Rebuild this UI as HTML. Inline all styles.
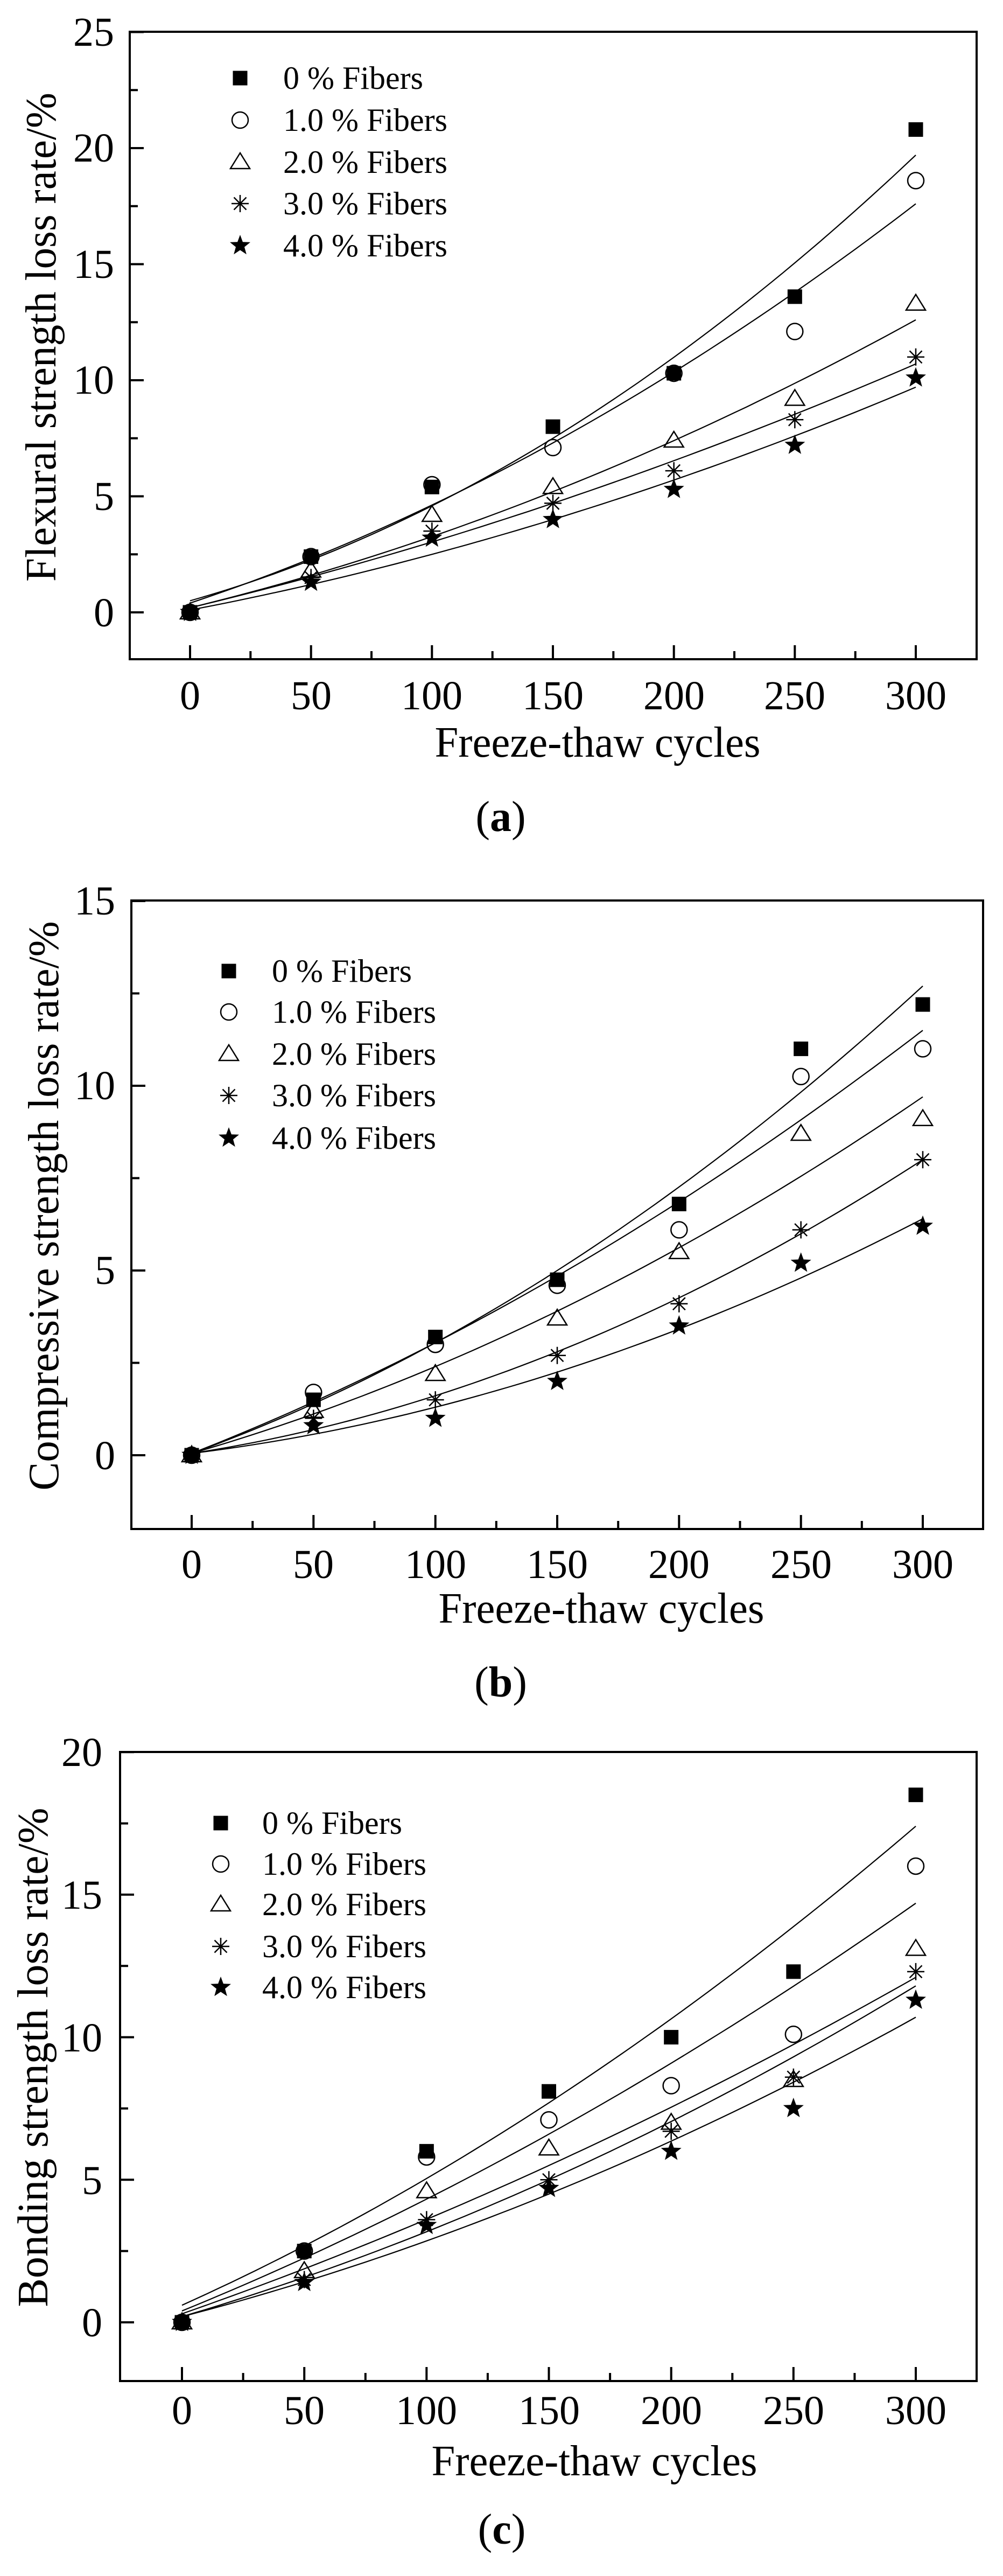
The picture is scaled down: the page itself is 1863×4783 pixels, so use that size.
<!DOCTYPE html>
<html><head><meta charset="utf-8"><style>
html,body{margin:0;padding:0;background:#fff;}
svg{display:block;font-family:"Liberation Serif","DejaVu Serif",serif;}
</style></head><body>
<svg id="s" xmlns="http://www.w3.org/2000/svg" width="1863" height="4783" viewBox="0 0 1863 4783">
<rect width="1863" height="4783" fill="#fff"/>
<g id="g"></g>
<g font-size="76" fill="#000">
<g text-anchor="end">
<text x="212" y="85">25</text><text x="212" y="300">20</text><text x="212" y="516">15</text><text x="212" y="731">10</text><text x="212" y="947">5</text><text x="212" y="1163">0</text>
</g>
<g text-anchor="middle">
<text x="353" y="1317">0</text><text x="578" y="1317">50</text><text x="802" y="1317">100</text><text x="1027" y="1317">150</text><text x="1252" y="1317">200</text><text x="1476" y="1317">250</text><text x="1701" y="1317">300</text>
</g>
<g text-anchor="end">
<text x="214" y="1698">15</text><text x="214" y="2041">10</text><text x="214" y="2384">5</text><text x="214" y="2728">0</text>
</g>
<g text-anchor="middle">
<text x="356" y="2930">0</text><text x="582" y="2930">50</text><text x="809" y="2930">100</text><text x="1035" y="2930">150</text><text x="1261" y="2930">200</text><text x="1488" y="2930">250</text><text x="1714" y="2930">300</text>
</g>
<g text-anchor="end">
<text x="190" y="3279">20</text><text x="190" y="3544">15</text><text x="190" y="3809">10</text><text x="190" y="4074">5</text><text x="190" y="4338">0</text>
</g>
<g text-anchor="middle">
<text x="338" y="4501">0</text><text x="565" y="4501">50</text><text x="792" y="4501">100</text><text x="1020" y="4501">150</text><text x="1247" y="4501">200</text><text x="1474" y="4501">250</text><text x="1701" y="4501">300</text>
</g>
</g>
<g font-size="80" fill="#000" text-anchor="middle">
<text x="1110" y="1405" textLength="605" lengthAdjust="spacingAndGlyphs">Freeze-thaw cycles</text>
<text x="1117" y="3013" textLength="605" lengthAdjust="spacingAndGlyphs">Freeze-thaw cycles</text>
<text x="1104" y="4596" textLength="605" lengthAdjust="spacingAndGlyphs">Freeze-thaw cycles</text>
<text transform="translate(103,626) rotate(-90)" textLength="908" lengthAdjust="spacingAndGlyphs">Flexural strength loss rate/%</text>
<text transform="translate(108,2239) rotate(-90)" textLength="1057" lengthAdjust="spacingAndGlyphs">Compressive strength loss rate/%</text>
<text transform="translate(88,3820) rotate(-90)" textLength="927" lengthAdjust="spacingAndGlyphs">Bonding strength loss rate/%</text>
<text x="930" y="1543">(<tspan font-weight="bold">a</tspan>)</text>
<text x="930" y="3150">(<tspan font-weight="bold">b</tspan>)</text>
<text x="932" y="4723">(<tspan font-weight="bold">c</tspan>)</text>
</g>
<g font-size="60" fill="#000">
<text x="526" y="165">0 % Fibers</text><text x="526" y="243">1.0 % Fibers</text><text x="526" y="321">2.0 % Fibers</text><text x="526" y="398">3.0 % Fibers</text><text x="526" y="476">4.0 % Fibers</text>
<text x="505" y="1823">0 % Fibers</text><text x="505" y="1899">1.0 % Fibers</text><text x="505" y="1977">2.0 % Fibers</text><text x="505" y="2054">3.0 % Fibers</text><text x="505" y="2133">4.0 % Fibers</text>
<text x="487" y="3405">0 % Fibers</text><text x="487" y="3481">1.0 % Fibers</text><text x="487" y="3556">2.0 % Fibers</text><text x="487" y="3634">3.0 % Fibers</text><text x="487" y="3710">4.0 % Fibers</text>
</g>
</svg>
<script>
(function(){
var g=document.getElementById("g"),out="";
function star(cx,cy,r){var p=[];for(var i=0;i<10;i++){var a=-Math.PI/2+i*Math.PI/5,rr=i%2?r*0.42:r;p.push((cx+rr*Math.cos(a)).toFixed(1)+","+(cy+rr*Math.sin(a)).toFixed(1));}return '<polygon points="'+p.join(" ")+'" fill="#000"/>';}
function mk(t,x,y){
 if(t==0)return '<rect x="'+(x-13.5)+'" y="'+(y-13.5)+'" width="27" height="27" fill="#000"/>';
 if(t==1)return '<circle cx="'+x+'" cy="'+y+'" r="15" fill="none" stroke="#000" stroke-width="2.5"/>';
 if(t==2)return '<polygon points="'+x+','+(y-17)+' '+(x-18)+','+(y+12)+' '+(x+18)+','+(y+12)+'" fill="none" stroke="#000" stroke-width="2.5"/>';
 if(t==3){var r=16,d=11.5;return '<path d="M'+x+','+(y-r)+'V'+(y+r)+'M'+(x-r)+','+y+'H'+(x+r)+'M'+(x-d)+','+(y-d)+'L'+(x+d)+','+(y+d)+'M'+(x-d)+','+(y+d)+'L'+(x+d)+','+(y-d)+'" stroke="#000" stroke-width="2.5"/>';}
 return star(x,y,20);
}
var P=[
{L:241,R:1814,T:59,B:1224,x0:353,x3:1701,y0:1137,k:43.1,ymax:25,
 lx:446,ly:[145,223,301,378,456],
 d:[[0,2.4,5.4,8.0,10.3,13.6,20.8],[0,2.4,5.5,7.1,10.3,12.1,18.6],[0,1.8,4.2,5.4,7.4,9.2,13.3],[0,1.5,3.5,4.7,6.1,8.3,11.0],[0,1.3,3.2,4.0,5.3,7.2,10.1]],
 f:[[0.5,7.5,19.7],[0.4,7.3,17.6],[0.2,5.2,12.6],[0.2,4.7,10.7],[0.1,4.0,9.7]]},
{L:244,R:1826,T:1672,B:2839,x0:356,x3:1714,y0:2702,k:68.6,ymax:15,
 lx:425,ly:[1803,1879,1957,2034,2113],
 d:[[0,1.5,3.2,4.75,6.8,11.0,12.2],[0,1.7,3.0,4.6,6.1,10.25,11.0],[0,1.2,2.2,3.7,5.5,8.7,9.1],[0,1.0,1.5,2.7,4.1,6.1,8.0],[0,0.8,1.0,2.0,3.5,5.2,6.2]],
 f:[[0.05,5.0,12.7],[0.05,4.85,11.5],[0.05,3.9,9.7],[0.05,2.8,8.0],[0.05,2.25,6.4]]},
{L:223,R:1814,T:3253,B:4421,x0:338,x3:1701,y0:4312,k:52.94,ymax:20,
 lx:410,ly:[3385,3461,3536,3614,3690],
 d:[[0,2.5,6.0,8.1,10.0,12.3,18.5],[0,2.5,5.8,7.1,8.3,10.1,16.0],[0,1.8,4.6,6.1,7.0,8.5,13.1],[0,1.5,3.6,5.0,6.7,8.6,12.3],[0,1.4,3.4,4.7,6.0,7.5,11.3]],
 f:[[0.6,7.7,17.4],[0.4,6.6,14.7],[0.3,5.5,12.1],[0.2,5.0,11.8],[0.2,4.5,10.7]]}
];
P.forEach(function(p){
 var X=function(v){return p.x0+(p.x3-p.x0)*v/300;},Y=function(v){return p.y0-p.k*v;};
 out+='<rect x="'+p.L+'" y="'+p.T+'" width="'+(p.R-p.L)+'" height="'+(p.B-p.T)+'" fill="none" stroke="#000" stroke-width="4"/>';
 var t="";
 for(var v=0;v<=300;v+=25){var x=X(v),l=(v%50==0)?26:15;t+='M'+x.toFixed(1)+','+p.B+'V'+(p.B-l);}
 for(var v=0;v<=p.ymax;v+=2.5){var y=Y(v),l=(v%5==0)?26:15;t+='M'+p.L+','+y.toFixed(1)+'H'+(p.L+l);}
 out+='<path d="'+t+'" stroke="#000" stroke-width="4" fill="none"/>';
 p.f.forEach(function(f){
  var a=f[0],c=(f[2]-a-2*(f[1]-a))/45000,b=(f[1]-a-c*22500)/150,s="";
  for(var v=0;v<=300;v+=5){var yy=a+b*v+c*v*v;s+=(v?'L':'M')+X(v).toFixed(1)+','+Y(yy).toFixed(1);}
  out+='<path d="'+s+'" stroke="#000" stroke-width="2.2" fill="none"/>';
 });
 p.d.forEach(function(ser,i){ser.forEach(function(v,j){out+=mk(i,X(j*50),Y(v));});out+=mk(i,p.lx,p.ly[i]);});
});
g.innerHTML=out;
})();
</script>
</body></html>
